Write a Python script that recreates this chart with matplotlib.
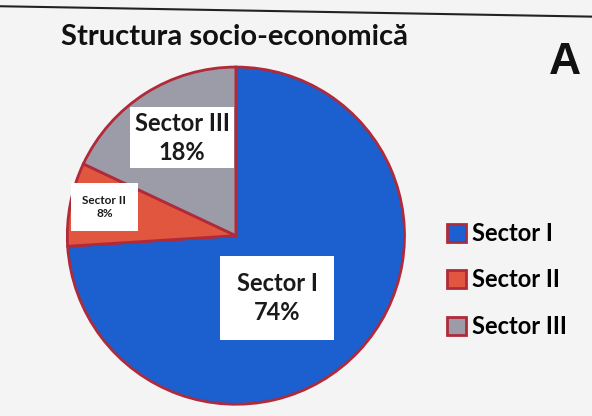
import matplotlib.pyplot as plt
from matplotlib.lines import Line2D

# Date: structura socio-economica
sectoare = ['Sector I', 'Sector II', 'Sector III']
procente = [74, 8, 18]
culori = ['#1c5fcf', '#e0563f', '#9c9ca8']

# pozitia etichetelor (coordonate relative fata de centrul cercului)
pozitii = [(0.245, -0.37), (-0.78, 0.17), (-0.32, 0.58)]
marimi = [17, 8.5, 17]
padding = [0.7, 1.0, 0.2]

fig = plt.figure(figsize=(5.92, 4.16), dpi=100, facecolor='#f4f4f4')

ax = fig.add_axes([0.108, 0.02, 0.581, 0.827])
wedges, _ = ax.pie(procente, colors=culori, startangle=90, counterclock=False,
                   wedgeprops=dict(edgecolor='#b02a3a', linewidth=2))
ax.set_xlim(-1.02, 1.02)
ax.set_ylim(-1.02, 1.02)
ax.set_aspect('equal')

for nume, p, (x, y), fs, pd in zip(sectoare, procente, pozitii, marimi, padding):
    ax.text(x, y, f'{nume}\n{p}%', ha='center', va='center', fontsize=fs,
            fontweight='bold', family='Lato', color='#1a1a1a', linespacing=1.3,
            bbox=dict(boxstyle=f'square,pad={pd}', fc='white', ec='none'))

# titlu si litera A
fig.text(0.103, 0.912, 'Structura socio-economică', fontsize=21, fontweight='bold',
         family='Lato', color='#111111', va='center')
fig.text(0.955, 0.85, 'A', fontsize=32, fontweight='bold', family='Liberation Sans',
         color='#111111', ha='center', va='center')

# marginea hartiei din fotografie
fig.add_artist(Line2D([0, 1], [0.985, 0.96], color='#222222', linewidth=1.5))

leg = fig.legend(wedges, sectoare, loc='center left', bbox_to_anchor=(0.72, 0.327),
                 frameon=False, handlelength=0.8, handleheight=0.8, labelspacing=1.0,
                 handletextpad=0.25, prop=dict(family='Lato', weight='bold', size=17))

fig.savefig('out.png', dpi=100, facecolor=fig.get_facecolor())
